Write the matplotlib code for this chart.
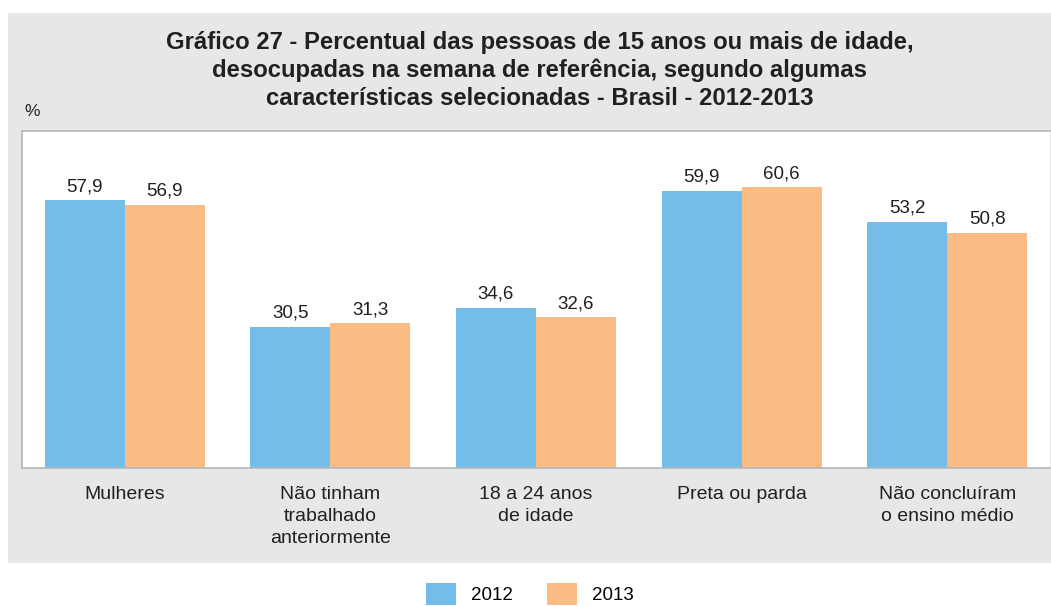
import matplotlib.pyplot as plt
from matplotlib.patches import Rectangle
import numpy as np

categories = ["Mulheres", "Não tinham\ntrabalhado\nanteriormente", "18 a 24 anos\nde idade",
              "Preta ou parda", "Não concluíram\no ensino médio"]
v2012 = [57.9, 30.5, 34.6, 59.9, 53.2]
v2013 = [56.9, 31.3, 32.6, 60.6, 50.8]
series_labels = ["2012", "2013"]
title = ("Gráfico 27 - Percentual das pessoas de 15 anos ou mais de idade,\n"
         "desocupadas na semana de referência, segundo algumas\n"
         "características selecionadas - Brasil - 2012-2013")

c12 = "#73bde8"
c13 = "#fbbb85"
bg = "#e6e7e9"

plt.rcParams['font.family'] = ['Liberation Sans', 'DejaVu Sans']

W, H = 1051, 606
fig = plt.figure(figsize=(W/100, H/100), dpi=100)
fig.patch.set_facecolor("white")

# gray panel
fig.patches.append(Rectangle((8/W, 1-563/H), (W-8)/W, (563-13)/H, transform=fig.transFigure,
                             facecolor=bg, edgecolor="none", zorder=-5))

ax = fig.add_axes([22/W, 1-468/H, (1050-22)/W, (468-131)/H])
ax.set_zorder(1)
ax.set_facecolor("white")
x = np.arange(len(categories))
w = 0.389
b1 = ax.bar(x - w/2, v2012, w, color=c12, label=series_labels[0], zorder=2)
b2 = ax.bar(x + w/2, v2013, w, color=c13, label=series_labels[1], zorder=2)
for bars, vals in ((b1, v2012), (b2, v2013)):
    for r, v in zip(bars, vals):
        ax.annotate(f"{v:.1f}".replace(".", ","), (r.get_x() + r.get_width()/2, v),
                    xytext=(0, 3.5), textcoords="offset points", ha="center", va="bottom",
                    fontsize=13.5, color="#231f20")
ax.set_xlim(-0.5, 4.5)
ax.set_ylim(0, 72.8)
ax.set_yticks([])
ax.set_xticks(x)
ax.set_xticklabels(categories, fontsize=14, color="#231f20", linespacing=1.4)
ax.tick_params(axis="x", length=0, pad=13)
for s in ax.spines.values():
    s.set_color("#b5b6b8")
    s.set_linewidth(1.2)
ax.spines["right"].set_visible(False)

fig.text(540/W, 1-31/H, title, ha="center", va="top", fontsize=17.2, fontweight="bold",
         color="#231f20", linespacing=1.27)
fig.text(24/W, 1-112/H, "%", ha="left", va="center", fontsize=12.5, color="#231f20")

leg = fig.legend(handles=[b1, b2], labels=series_labels, loc="center", ncol=2,
                 bbox_to_anchor=(530/W, 1-594/H), frameon=False, fontsize=13.5,
                 handlelength=1.6, handleheight=1.35, handletextpad=0.8, columnspacing=1.85)

fig.savefig("out.png", dpi=100)
